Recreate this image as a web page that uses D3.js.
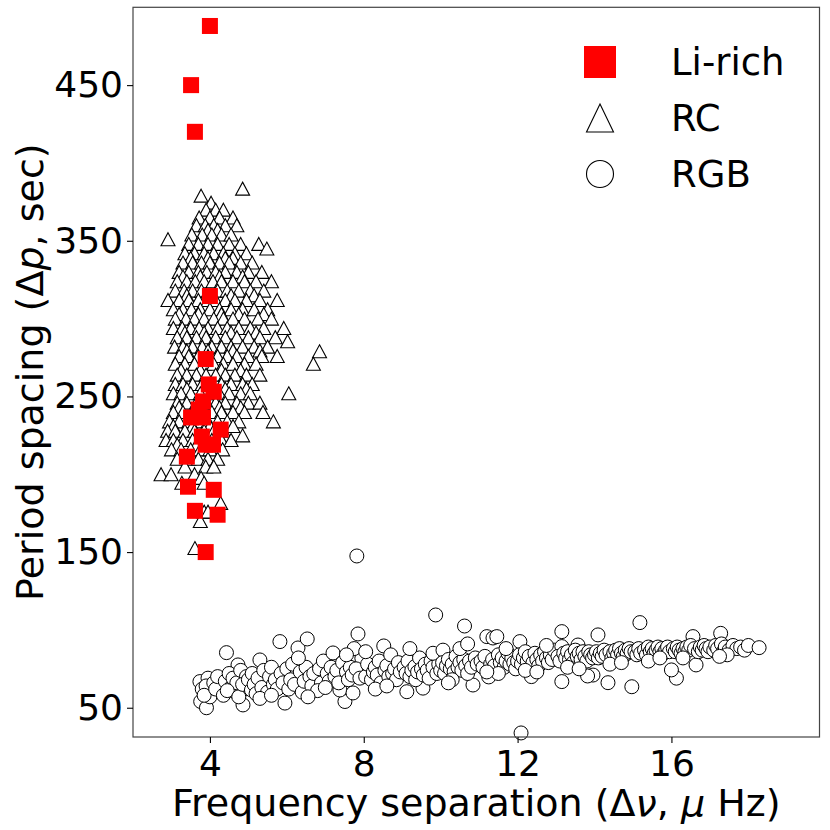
<!DOCTYPE html>
<html><head><meta charset="utf-8">
<script src="https://cdn.jsdelivr.net/npm/d3@7"></script>
<style>
body{margin:0;background:#fff;}
svg{display:block;font-family:"DejaVu Sans",sans-serif;}
</style></head>
<body>
<svg id="c" width="830" height="830"></svg>
<script>
// ---- data ----
const xTicks = [4, 8, 12, 16];
const yTicks = [50, 150, 250, 350, 450];
const legendLabels = ["Li-rich", "RC", "RGB"];

const liRich = [
 [4.00,488],[3.51,450],[3.61,420],[4.00,314.5],[3.89,274],[3.97,257.7],[4.10,253],
 [3.82,246.8],[3.71,241.6],[3.51,236.5],[3.82,236.5],[4.28,228.7],[3.79,224.2],
 [4.08,219],[3.89,219],[3.40,211.3],[3.43,192],[4.10,190],[3.61,176.5],[4.20,174],[3.89,150]
];

const rcRows = [
 [383.5,[4.85]],
 [379,[3.77]],[374.5,[4.03]],
 [370,[3.9,4.15,4.35]],
 [365,[3.72,4.0,4.25,4.6]],
 [360,[3.65,3.88,4.1,4.4,4.7]],
 [357,[3.95,4.2]],
 [354,[3.53,3.8,4.05,4.3,4.55]],
 [351,[2.91]],
 [348,[3.45,3.7,3.95,4.2,4.5,4.8,5.27]],
 [345,[5.48]],
 [342,[3.35,3.6,3.85,4.1,4.35,4.65,4.95]],
 [339,[3.5,3.95,4.4,4.6]],
 [336,[3.3,3.55,3.78,4.0,4.25,4.5,4.8,5.1]],
 [330,[3.2,3.45,3.7,3.92,4.15,4.4,4.7,5.0,5.35]],
 [327,[3.3,3.75,4.25,4.85]],
 [324,[3.15,3.4,3.62,3.85,4.08,4.3,4.6,4.9,5.2,5.6]],
 [318,[3.1,3.33,3.55,3.78,4.2,4.45,4.75,5.05,5.4]],
 [315,[3.4,3.9,4.55,5.15]],
 [312,[2.91,3.2,3.45,3.7,3.95,4.15,4.4,4.65,4.95,5.3,5.75]],
 [306,[3.05,3.3,3.52,3.75,4.0,4.25,4.55,4.85,5.15,5.5]],
 [303,[3.2,3.7,4.3,4.75,5.4]],
 [300,[3.1,3.38,3.6,3.85,4.1,4.35,4.6,4.9,5.25,5.6]],
 [294,[3.05,3.28,3.5,3.72,3.95,4.2,4.45,4.75,5.05,5.4,5.92]],
 [291,[3.35,3.85,4.55,5.2]],
 [288,[3.15,3.4,3.65,3.9,4.15,4.4,4.7,5.0,5.3,5.7]],
 [285.5,[6.02]],
 [282,[3.08,3.3,3.55,3.8,4.05,4.3,4.55,4.85,5.15,5.5]],
 [279.5,[3.4,3.95,4.6,5.3]],
 [279,[6.85]],
 [276,[3.2,3.45,3.7,3.95,4.2,4.45,4.7,5.0,5.35,5.75]],
 [271,[3.1,3.35,3.6,3.85,4.1,4.35,4.6,4.9,5.2,6.69]],
 [267,[3.25,3.75,4.3,4.8]],
 [264,[3.15,3.4,3.65,3.9,4.15,4.4,4.65,4.95,5.3]],
 [258,[3.1,3.3,3.55,3.8,4.05,4.3,4.55,4.85,5.1]],
 [255,[3.4,3.95,4.4,4.95]],
 [252,[3.05,3.25,3.5,3.75,4.0,4.25,4.5,4.8,5.05,6.05]],
 [246,[3.15,3.4,3.65,3.9,4.15,4.4,4.7,5.0,5.3]],
 [243,[3.2,3.7,4.25,4.8]],
 [240,[3.05,3.3,3.55,3.8,4.05,4.3,4.6,4.9,5.38]],
 [234,[2.95,3.2,3.45,3.7,3.95,4.2,4.45,4.75,5.65]],
 [231,[3.05,3.55,4.0,4.6]],
 [228,[2.9,3.1,3.35,3.6,3.85,4.1,4.35]],
 [225,[4.85]],
 [222,[2.86,3.05,3.3,3.55,3.8,4.05,4.3,4.55]],
 [219,[3.15,3.65,4.2]],
 [216,[3.0,3.25,3.5,3.75,4.0,4.33]],
 [210,[3.15,3.45,3.7,3.95,4.2]],
 [205,[3.35,3.89,4.1]],
 [200,[2.73,2.99,3.6]],
 [197.7,[3.77]],
 [194.5,[3.27,3.85]],
 [181.6,[4.28]],
 [176,[3.85,3.95]],
 [170,[3.75]],
 [152.6,[3.61]]
];
const rc = rcRows.flatMap(([yv, xs]) => xs.map(xv => [xv, yv]));

const rgb = [
 [3.74,66.8],[3.95,69],[4.05,59.5],[3.76,54],[3.91,50],[3.8,62],[3.9,64],[4.1,66],[4.0,57],[3.85,58],[4.15,62],[4.2,70],
 [4.43,85.4],[4.73,77.5],[4.65,60.3],[4.86,51.8],[4.4,67],[4.5,72],[4.55,63],[4.6,69],[4.7,66],[4.8,74],[4.9,62],[4.95,70],[4.35,58],[4.45,61],[4.75,57],[4.85,65],[5.0,68],
 [5.08,61.4],[5.3,80.7],[5.47,66.8],[5.82,92.5],[5.95,53],[5.1,72],[5.15,65],[5.2,59],[5.25,69],[5.35,63],[5.4,74],[5.5,60],[5.55,70],[5.6,76],[5.65,65],[5.7,68],[5.75,62],[5.85,72],[5.9,66],[6.0,75],[5.3,56],[5.6,58],
 [6.29,88.4],[6.25,71],[6.53,94.2],[6.77,69],[6.05,62],[6.1,68],[6.15,78],[6.2,65],[6.35,73],[6.4,60],[6.45,67],[6.5,76],[6.6,70],[6.65,64],[6.7,72],[6.85,75],[6.9,66],[6.95,80],[6.3,82],[6.8,61],[6.55,57],
 [7.2,85.2],[7.46,70],[7.51,54],[7.38,61.4],[7.72,59.5],[7.85,97.4],[7.95,81.8],[7.82,147.5],[7.05,72],[7.1,67],[7.15,76],[7.25,70],[7.3,74],[7.35,66],[7.45,79],[7.55,73],[7.6,68],[7.65,76],[7.7,71],[7.8,75],[7.9,69],[7.75,88],[7.55,84],[7.0,63],
 [8.16,74.3],[8.52,89.7],[8.05,70],[8.1,78],[8.2,68],[8.25,73],[8.3,76],[8.35,71],[8.4,80],[8.45,66],[8.55,74],[8.6,77],[8.65,70],[8.7,84],[8.75,72],[8.8,75],[8.85,68],[8.9,79],[8.95,73],[8.3,62],[8.6,64],[8.05,86],
 [9.05,76],[9.1,72],[9.15,80],[9.2,70],[9.25,74],[9.33,76.4],[9.12,60.3],[9.54,62.6],[9.35,68],[9.4,73],[9.45,82],[9.5,75],[9.55,71],[9.6,78],[9.65,74],[9.7,69],[9.75,80],[9.8,76],[9.87,109.6],[9.9,72],[9.95,78],[9.2,88],[9.8,85],
 [10.06,87],[10.84,64.6],[10.62,102.5],[10.0,74],[10.05,79],[10.1,72],[10.15,77],[10.2,81],[10.25,75],[10.3,78],[10.35,73],[10.4,83],[10.45,76],[10.5,79],[10.55,74],[10.6,81],[10.65,77],[10.7,72],[10.75,80],[10.8,76],[10.9,82],[10.95,78],[10.3,68],[10.5,88],[10.7,91],[10.2,66],
 [11.2,95.7],[11.25,69.8],[11.36,94.8],[11.46,95.7],[11.05,80],[11.1,76],[11.15,83],[11.3,78],[11.35,81],[11.4,77],[11.5,84],[11.55,79],[11.6,82],[11.65,76],[11.7,80],[11.75,85],[11.8,78],[11.85,82],[11.9,79],[11.95,75],[11.5,72],[11.7,88],[11.2,73],
 [12.06,92.5],[12.36,70],[12.09,33.8],[12.0,80],[12.05,84],[12.1,78],[12.15,82],[12.2,86],[12.25,80],[12.3,83],[12.4,79],[12.45,85],[12.5,81],[12.55,77],[12.6,84],[12.65,80],[12.7,86],[12.75,82],[12.8,79],[12.85,84],[12.9,81],[12.95,87],[12.2,74],[12.5,73],[12.75,90],
 [13.15,98.9],[13.15,66.8],[13.15,89.3],[13.57,90.3],[13.96,71],[13.82,70.4],[13.05,83],[13.1,80],[13.2,85],[13.25,82],[13.3,86],[13.35,81],[13.4,84],[13.45,79],[13.5,87],[13.55,83],[13.6,85],[13.65,81],[13.7,86],[13.75,83],[13.8,80],[13.85,86],[13.9,84],[13.95,82],[13.3,76],[13.6,75],
 [14.09,96.8],[14.35,66.1],[14.97,63.5],[14.0,84],[14.05,86],[14.1,82],[14.15,85],[14.2,83],[14.25,87],[14.3,84],[14.4,86],[14.45,82],[14.5,85],[14.55,87],[14.6,84],[14.65,88],[14.7,85],[14.75,83],[14.8,87],[14.85,85],[14.9,88],[14.95,86],[14.4,78],[14.7,79],
 [15.18,104.7],[15.05,86],[15.1,84],[15.15,88],[15.2,85],[15.3,87],[15.35,84],[15.4,89],[15.45,86],[15.5,88],[15.55,85],[15.6,87],[15.65,89],[15.7,86],[15.75,88],[15.8,85],[15.85,87],[15.9,89],[15.95,86],[15.4,80],[15.7,82],
 [16.13,69],[16.0,74.3],[16.64,77.5],[16.56,95.7],[16.05,88],[16.1,86],[16.15,89],[16.2,87],[16.25,85],[16.3,88],[16.35,86],[16.4,89],[16.45,87],[16.5,90],[16.6,88],[16.7,86],[16.75,89],[16.8,87],[16.85,90],[16.9,88],[16.95,86],[16.3,82],
 [17.28,97.8],[17.0,89],[17.1,87],[17.15,90],[17.2,88],[17.3,91],[17.35,86],[17.4,89],[17.5,87],[17.6,90],[17.7,88],[17.8,89],[17.9,87],[18.0,90],[18.28,88.6],[17.45,84],[17.25,83]
];

// ---- layout ----
const L = 133, R = 819.5, T = 7.3, B = 737;
const svg = d3.select("#c");
const x = d3.scaleLinear().domain([2.0, 19.85]).range([L, R]);
const y = d3.scaleLinear().domain([31.2, 500]).range([B, T]);

const plot = svg.append("g");
// circles (RGB)
plot.append("g").selectAll("circle").data(rgb).join("circle")
  .attr("cx", d => x(d[0])).attr("cy", d => y(d[1])).attr("r", 7)
  .attr("fill", "#fff").attr("stroke", "#000").attr("stroke-width", 1);
// triangles (RC)
const tri = (w, h) => `M0,${-h/2}L${w/2},${h/2}L${-w/2},${h/2}Z`;
plot.append("g").selectAll("path").data(rc).join("path")
  .attr("transform", d => `translate(${x(d[0])},${y(d[1])})`)
  .attr("d", tri(14, 13))
  .attr("fill", "#fff").attr("stroke", "#000").attr("stroke-width", 1.1);
// squares (Li-rich)
plot.append("g").selectAll("rect").data(liRich).join("rect")
  .attr("x", d => x(d[0]) - 8).attr("y", d => y(d[1]) - 8)
  .attr("width", 16).attr("height", 16).attr("fill", "#ff0000");

// frame
svg.append("rect").attr("x", L).attr("y", T).attr("width", R - L).attr("height", B - T)
  .attr("fill", "none").attr("stroke", "#444").attr("stroke-width", 1.2);

// axes
const fs = 36, fsTitle = 38;
const gx = svg.append("g").attr("transform", `translate(0,${B})`)
  .call(d3.axisBottom(x).tickValues(xTicks).tickSize(6).tickPadding(7).tickFormat(d3.format("d")));
const gy = svg.append("g").attr("transform", `translate(${L},0)`)
  .call(d3.axisLeft(y).tickValues(yTicks).tickSize(6).tickPadding(4).tickFormat(d3.format("d")));
[gx, gy].forEach(g => {
  g.select(".domain").remove();
  g.selectAll(".tick line").attr("stroke", "#000").attr("stroke-width", 1.1);
  g.selectAll(".tick text").attr("font-size", fs).attr("font-family", "DejaVu Sans").attr("fill", "#000");
});

// axis titles
const xl = svg.append("text").attr("x", (L + R) / 2).attr("y", 816)
  .attr("text-anchor", "middle").attr("font-size", fsTitle).attr("fill", "#000");
xl.append("tspan").text("Frequency separation (Δ");
xl.append("tspan").attr("font-style", "italic").text("ν");
xl.append("tspan").text(", ");
xl.append("tspan").attr("font-style", "italic").text("μ");
xl.append("tspan").text(" Hz)");

const yl = svg.append("text").attr("transform", `translate(43,${(T + B) / 2}) rotate(-90)`)
  .attr("text-anchor", "middle").attr("font-size", fsTitle).attr("fill", "#000");
yl.append("tspan").text("Period spacing (Δ");
yl.append("tspan").attr("font-style", "italic").text("p");
yl.append("tspan").text(", sec)");

// legend
const lg = svg.append("g");
const lx = 600, ly = [62, 118, 174];
lg.append("rect").attr("x", lx - 16).attr("y", ly[0] - 16).attr("width", 32).attr("height", 32).attr("fill", "#ff0000");
lg.append("path").attr("transform", `translate(${lx},${ly[1]})`).attr("d", tri(27, 28))
  .attr("fill", "#fff").attr("stroke", "#000").attr("stroke-width", 1.1);
lg.append("circle").attr("cx", lx).attr("cy", ly[2]).attr("r", 13.5)
  .attr("fill", "#fff").attr("stroke", "#000").attr("stroke-width", 1.1);
lg.selectAll("text.lab").data(legendLabels).join("text").attr("class", "lab")
  .attr("x", 671).attr("y", (d, i) => ly[i] + 13)
  .attr("font-size", 37).attr("fill", "#000").text(d => d);
</script>
</body></html>
